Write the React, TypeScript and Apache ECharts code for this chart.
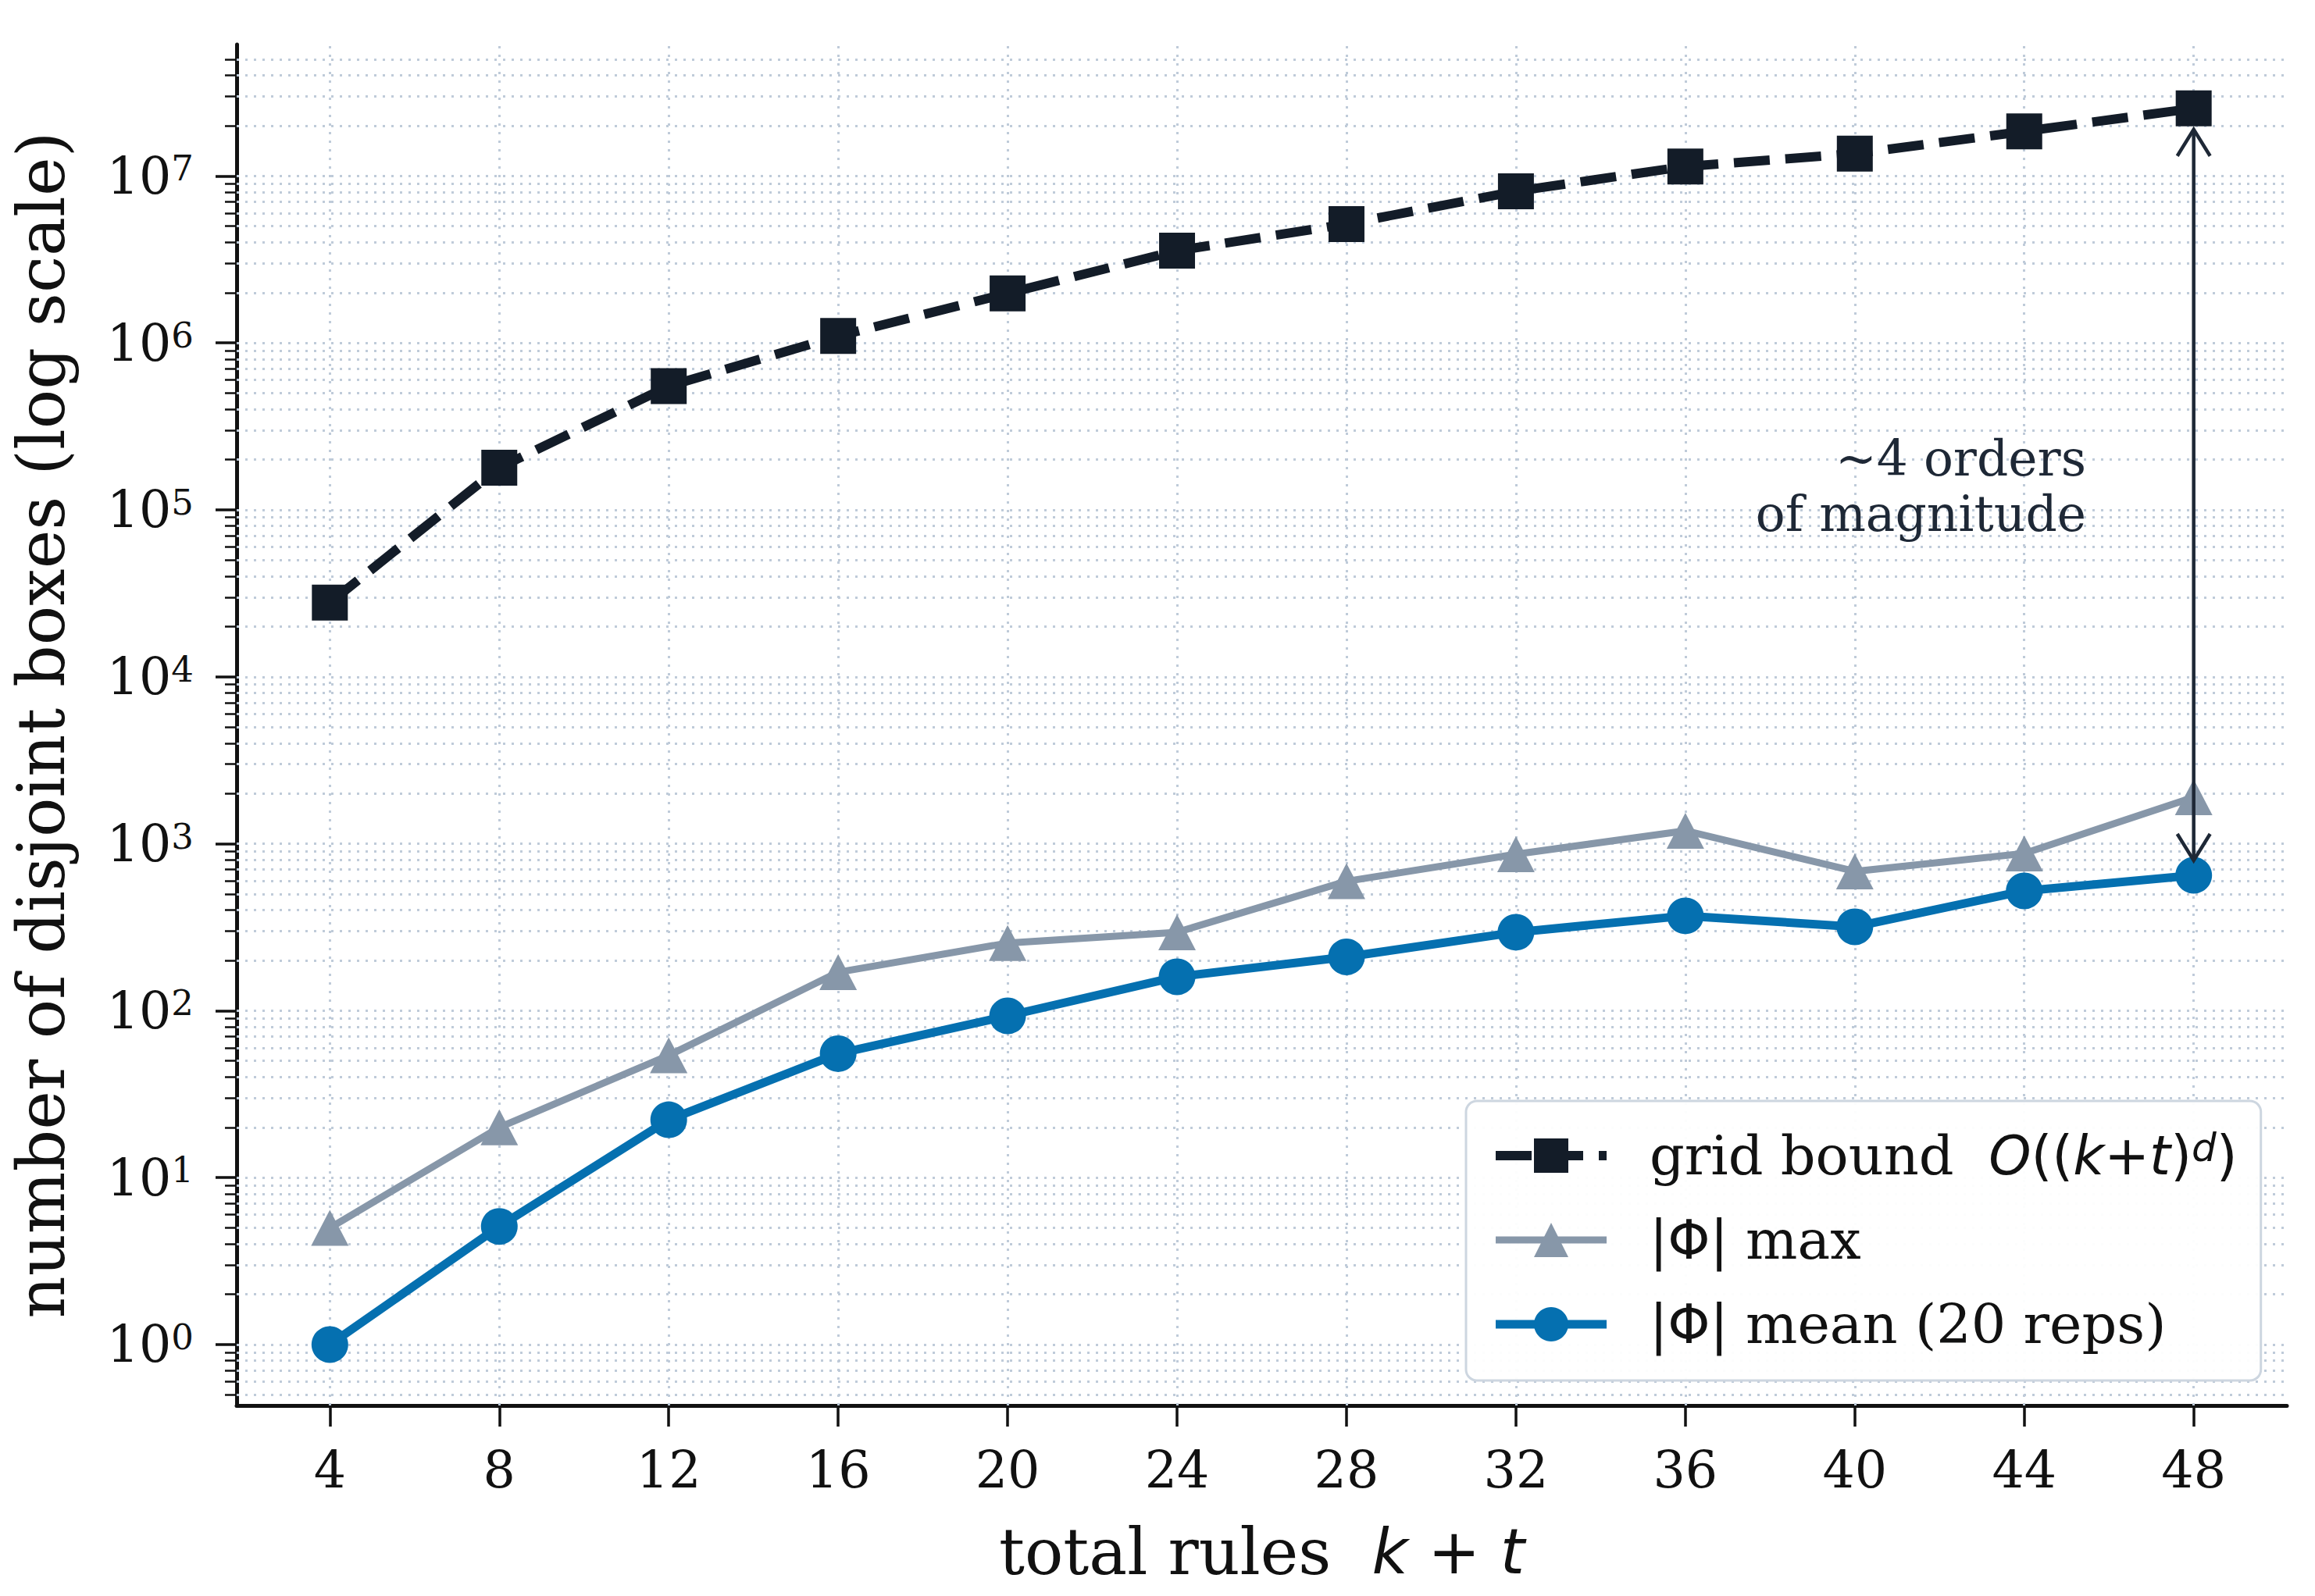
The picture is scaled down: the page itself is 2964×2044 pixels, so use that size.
import React, { useEffect, useRef } from "react";
import * as echarts from "echarts";

// total number of rules k + t
const ruleCounts = [4, 8, 12, 16, 20, 24, 28, 32, 36, 40, 44, 48];
// theoretical grid bound O((k+t)^d)
const gridBound = [2.78e4, 1.79e5, 5.51e5, 1.1e6, 1.98e6, 3.57e6, 5.15e6, 8.1e6, 1.14e7, 1.36e7, 1.85e7, 2.54e7];
// largest |Φ| over the repetitions
const phiMax = [5, 20, 54, 170, 254, 295, 596, 865, 1196, 683, 875, 1900];
// mean |Φ| over 20 repetitions
const phiMean = [1, 5.1, 22.2, 55.3, 93.1, 159.6, 210, 295, 370, 318, 522, 647];

// axis ticks
const xTickValues = [4, 8, 12, 16, 20, 24, 28, 32, 36, 40, 44, 48];
const yDecadeTicks = [1, 10, 100, 1e3, 1e4, 1e5, 1e6, 1e7];
const yMinorSteps = [2, 3, 4, 5, 6, 7, 8, 9];
const yMinorDecades = [0.1, 1, 10, 100, 1e3, 1e4, 1e5, 1e6, 1e7];

const X_MIN = 1.8;
const X_MAX = 50.2;
const Y_MIN = 0.4316;
const Y_MAX = 6.13e7;

const yMinorTicks: number[] = [];
yMinorDecades.forEach((d) =>
  yMinorSteps.forEach((m) => {
    const v = Number((d * m).toPrecision(6));
    if (v > Y_MIN && v < 6e7) yMinorTicks.push(v);
  })
);

const NAME_GRID = "grid bound O((k+t)^d)";
const NAME_MAX = "|Φ| max";
const NAME_MEAN = "|Φ| mean (20 reps)";

const GRID_COLOR = "#131c28";
const MAX_COLOR = "#8797a9";
const MEAN_COLOR = "#0570b0";
const INK = "#111111";
const NOTE_COLOR = "#1e2836";
const GRIDLINE_COLOR = "#bfcbd9";

const SERIF = "DejaVu Serif";
const SANS = "DejaVu Sans";

const legendText: Record<string, string> = {
  [NAME_GRID]: "{n|grid bound  }{mi|O}{mr|((}{mi|k}{mr|+}{mi|t}{mr|)}{sup|d}{mr|)}",
  [NAME_MAX]: "{mr||Φ|}{n| max}",
  [NAME_MEAN]: "{mr||Φ|}{n| mean (20 reps)}",
};

const toPairs = (ys: number[]) => ruleCounts.map((x, i) => [x, ys[i]]);

function buildOption(): echarts.EChartsOption {
  const gridLines = [
    ...xTickValues.map((v) => ({ xAxis: v })),
    ...yDecadeTicks.map((v) => ({ yAxis: v })),
    ...yMinorTicks.map((v) => ({ yAxis: v })),
  ];

  return {
    animation: false,
    backgroundColor: "#ffffff",
    textStyle: { fontFamily: SERIF },
    grid: {
      left: 303,
      right: 36,
      top: 57,
      bottom: 244,
      containLabel: false,
      outerBoundsMode: "none",
    } as any,
    xAxis: {
      type: "value",
      min: X_MIN,
      max: X_MAX,
      name: "{t|total rules  }{mi|k}{mr| + }{mi|t}",
      nameLocation: "middle",
      nameGap: 146,
      nameMoveOverlap: false,
      nameTextStyle: {
        rich: {
          t: { fontFamily: SERIF, fontSize: 82, lineHeight: 82, color: INK },
          mi: { fontFamily: SANS, fontStyle: "italic", fontSize: 80, lineHeight: 82, color: INK },
          mr: { fontFamily: SANS, fontSize: 80, lineHeight: 82, color: INK },
        },
      },
      axisLine: { show: true, onZero: false, lineStyle: { color: INK, width: 5 } },
      axisTick: {
        show: true,
        inside: false,
        length: 27,
        customValues: xTickValues,
        lineStyle: { color: INK, width: 3.5 },
      },
      axisLabel: {
        customValues: xTickValues,
        margin: 50,
        fontFamily: SERIF,
        fontSize: 65,
        color: INK,
      },
      splitLine: { show: false },
    } as any,
    yAxis: [
      {
        type: "log",
        logBase: 10,
        min: Y_MIN,
        max: Y_MAX,
        position: "left",
        name: "number of disjoint boxes (log scale)",
        nameLocation: "middle",
        nameGap: 208,
        nameMoveOverlap: false,
        nameTextStyle: { fontFamily: SERIF, fontSize: 84, color: INK },
        axisLine: { show: true, onZero: false, lineStyle: { color: INK, width: 5 } },
        axisTick: {
          show: true,
          inside: false,
          length: 27,
          customValues: yDecadeTicks,
          lineStyle: { color: INK, width: 3.5 },
        },
        axisLabel: {
          customValues: yDecadeTicks,
          margin: 55,
          formatter: (v: number) => `{b|10}{e|${Math.round(Math.log10(v))}}`,
          rich: {
            b: { fontFamily: SERIF, fontSize: 65, lineHeight: 64, color: INK },
            e: { fontFamily: SERIF, fontSize: 45, lineHeight: 30, verticalAlign: "top", color: INK },
          },
        },
        splitLine: { show: false },
        minorTick: { show: false },
      },
      {
        // carries the minor log ticks (2..9 × 10^n)
        type: "log",
        logBase: 10,
        min: Y_MIN,
        max: Y_MAX,
        position: "left",
        axisLine: { show: false },
        axisTick: {
          show: true,
          inside: false,
          length: 15,
          customValues: yMinorTicks,
          lineStyle: { color: INK, width: 2.5 },
        },
        axisLabel: { show: false },
        splitLine: { show: false },
      },
    ] as any,
    legend: {
      orient: "vertical",
      left: 1877,
      top: 1410,
      padding: [35, 30, 37, 32],
      itemGap: 38,
      itemWidth: 142,
      itemHeight: 55,
      backgroundColor: "rgba(255,255,255,0.95)",
      borderColor: "#cdd6e0",
      borderWidth: 3,
      borderRadius: 14,
      selectedMode: false,
      z: 6,
      formatter: (name: string) => legendText[name] ?? name,
      textStyle: {
        fontFamily: SERIF,
        fontSize: 70,
        color: INK,
        padding: [0, 0, 0, 50],
        rich: {
          n: { fontFamily: SERIF, fontSize: 70, lineHeight: 70, color: INK },
          mi: { fontFamily: SANS, fontStyle: "italic", fontSize: 69, lineHeight: 70, color: INK },
          mr: { fontFamily: SANS, fontSize: 69, lineHeight: 70, color: INK },
          sup: { fontFamily: SANS, fontStyle: "italic", fontSize: 50, lineHeight: 28, verticalAlign: "top", color: INK },
        },
      },
      data: [
        { name: NAME_GRID, lineStyle: { width: 12 } },
        { name: NAME_MAX, lineStyle: { width: 9 } },
        { name: NAME_MEAN, lineStyle: { width: 11 } },
      ],
    } as any,
    series: [
      {
        name: NAME_GRID,
        type: "line",
        xAxisIndex: 0,
        yAxisIndex: 0,
        data: toPairs(gridBound),
        symbol: "rect",
        symbolSize: 46,
        lineStyle: { color: GRID_COLOR, width: 12, type: [46, 20], cap: "butt" },
        itemStyle: { color: GRID_COLOR },
        emphasis: { disabled: true },
        z: 3,
        markLine: {
          silent: true,
          symbol: "none",
          z: 1,
          animation: false,
          label: { show: false },
          emphasis: { disabled: true },
          lineStyle: { color: GRIDLINE_COLOR, width: 3, type: [3, 8] },
          data: gridLines,
        },
      },
      {
        name: NAME_MAX,
        type: "line",
        xAxisIndex: 0,
        yAxisIndex: 0,
        data: toPairs(phiMax),
        symbol: "triangle",
        symbolSize: [48, 46],
        lineStyle: { color: MAX_COLOR, width: 9 },
        itemStyle: { color: MAX_COLOR },
        emphasis: { disabled: true },
        z: 3,
      },
      {
        name: NAME_MEAN,
        type: "line",
        xAxisIndex: 0,
        yAxisIndex: 0,
        data: toPairs(phiMean),
        symbol: "circle",
        symbolSize: 47,
        lineStyle: { color: MEAN_COLOR, width: 11 },
        itemStyle: { color: MEAN_COLOR },
        emphasis: { disabled: true },
        z: 3,
      },
    ] as any,
  };
}

export default function App() {
  const ref = useRef<HTMLDivElement>(null);

  useEffect(() => {
    document.body.style.margin = "0";
    if (!ref.current) return;
    const chart = echarts.init(ref.current, null, { renderer: "svg" });
    chart.setOption(buildOption());

    // double-headed arrow between the grid bound and the mean at the last point
    const last = ruleCounts.length - 1;
    const top = chart.convertToPixel({ seriesIndex: 0 }, [ruleCounts[last], gridBound[last]]) as number[];
    const bot = chart.convertToPixel({ seriesIndex: 2 }, [ruleCounts[last], phiMean[last]]) as number[];
    const ax = top[0];
    const topTip = top[1] + 27;
    const botTip = bot[1] - 19;
    const head = 21;
    const headLen = 34;

    chart.setOption({
      graphic: [
        {
          type: "line",
          silent: true,
          z: 10,
          shape: { x1: ax, y1: topTip + 2, x2: ax, y2: botTip - 2 },
          style: { stroke: NOTE_COLOR, lineWidth: 4.5 },
        },
        {
          type: "polyline",
          silent: true,
          z: 10,
          shape: { points: [[ax - head, topTip + headLen], [ax, topTip], [ax + head, topTip + headLen]] },
          style: { stroke: NOTE_COLOR, lineWidth: 4.5, fill: "none" },
        },
        {
          type: "polyline",
          silent: true,
          z: 10,
          shape: { points: [[ax - head, botTip - headLen], [ax, botTip], [ax + head, botTip - headLen]] },
          style: { stroke: NOTE_COLOR, lineWidth: 4.5, fill: "none" },
        },
        {
          type: "text",
          silent: true,
          z: 10,
          x: 2671,
          y: 552,
          style: {
            text: "~4 orders\nof magnitude",
            align: "right",
            verticalAlign: "top",
            fontFamily: SERIF,
            fontSize: 63,
            lineHeight: 71,
            fill: NOTE_COLOR,
          },
        },
      ],
    });

    return () => chart.dispose();
  }, []);

  return <div ref={ref} style={{ width: 2964, height: 2044 }} />;
}
